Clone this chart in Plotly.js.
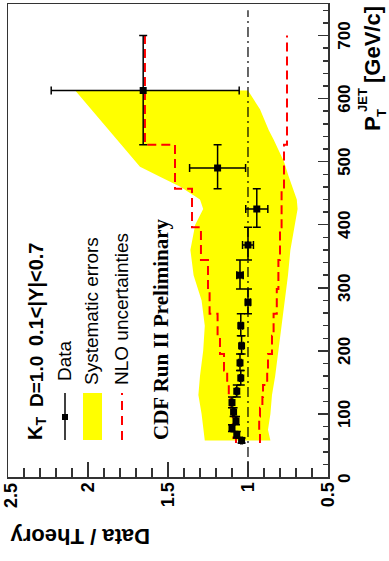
<!DOCTYPE html>
<html><head><meta charset="utf-8">
<script src="https://cdn.plot.ly/plotly-3.0.1.min.js"></script>
<style>
html,body{margin:0;padding:0;background:#fff;overflow:hidden;width:389px;height:561px;}
#wrap{position:absolute;left:0;top:0;width:561px;height:389px;transform-origin:0 0;transform:translate(0px,561px) rotate(-90deg);}
#chart{width:561px;height:389px;}
</style></head><body>
<div id="wrap"><div id="chart"></div></div>
<script>
// ---- data ----
const binLow   = [54,62,72,83,96,110,127,146,169,195,224,259,298,344,396,457,527];
const binHigh  = [62,72,83,96,110,127,146,169,195,224,259,298,344,396,457,527,700];
const ptCenter = [58,67,77,89,103,118,136,157,181,208,240,277,320,368,425,490,613];
const ratio    = [1.04,1.07,1.10,1.075,1.09,1.10,1.07,1.045,1.05,1.04,1.045,1.00,1.05,1.00,0.945,1.19,1.655];
const statUp   = [0.005,0.005,0.005,0.005,0.006,0.006,0.007,0.008,0.009,0.010,0.012,0.015,0.020,0.034,0.069,0.175,0.575];
const statDown = [0.005,0.005,0.005,0.005,0.006,0.006,0.007,0.008,0.009,0.010,0.012,0.015,0.020,0.034,0.069,0.175,0.600];
const nloHigh  = [1.075,1.09,1.09,1.095,1.095,1.11,1.12,1.13,1.15,1.175,1.19,1.24,1.25,1.294,1.35,1.456,1.644];
const nloLow   = [0.925,0.925,0.93,0.93,0.925,0.91,0.906,0.88,0.875,0.85,0.84,0.82,0.81,0.80,0.79,0.775,0.756];
const nloEnd   = 700;
const bandPt   = [613,583,550,535,500,492,476,460,440,425,400,360,320,280,240,200,160,130,100,75,58];
const bandHi   = [2.08,1.98,1.87,1.82,1.70,1.675,1.55,1.42,1.30,1.28,1.33,1.36,1.34,1.29,1.27,1.28,1.30,1.31,1.29,1.28,1.27];
const bandLo   = [1.00,0.925,0.87,0.84,0.775,0.765,0.745,0.725,0.695,0.69,0.71,0.735,0.75,0.77,0.79,0.81,0.83,0.85,0.86,0.875,0.86];
const unityY   = 1.0;
const unityX   = [0, 740];
const xTicks   = [100,200,300,400,500,600,700];  // "0" at the corner is placed as an annotation
const xCornerLabel = '0';
const yTicks   = [0.5,1,1.5,2];                  // "2.5" at the edge is placed as an annotation
const yTopLabel = '2.5';

// ---- layout helpers (pixel -> paper) ----
const W=561,H=389,ML=84,MR=4,MT=8,MB=61;
const px = X => (X-ML)/(W-ML-MR);
const py = Y => (H-MB-Y)/(H-MT-MB);

const bandX = bandPt.concat(bandPt.slice().reverse());
const bandY = bandHi.concat(bandLo.slice().reverse());

const traces = [
  {x:bandX, y:bandY, type:'scatter', mode:'lines', fill:'toself', fillcolor:'#ffff00',
   line:{width:0,color:'#ffff00'}, hoverinfo:'skip', showlegend:false},
  {x:binLow.concat([nloEnd]), y:nloHigh.concat([nloHigh[nloHigh.length-1]]), type:'scatter', mode:'lines',
   line:{color:'#ff0000', width:2, dash:'9px,5px', shape:'hv'}, showlegend:false},
  {x:binLow.concat([nloEnd]), y:nloLow.concat([nloLow[nloLow.length-1]]), type:'scatter', mode:'lines',
   line:{color:'#ff0000', width:2, dash:'9px,5px', shape:'hv'}, showlegend:false},
  {x:unityX, y:[unityY,unityY], type:'scatter', mode:'lines',
   line:{color:'#000', width:1.2, dash:'10px,4px,2px,4px'}, showlegend:false},
  {x:ptCenter, y:ratio, type:'scatter', mode:'markers',
   marker:{symbol:'square', size:7, color:'#000'},
   error_x:{type:'data', symmetric:false, array:ptCenter.map((p,i)=>binHigh[i]-p),
            arrayminus:ptCenter.map((p,i)=>p-binLow[i]), color:'#000', thickness:1.5, width:4},
   error_y:{type:'data', symmetric:false, array:statUp, arrayminus:statDown, color:'#000', thickness:1.5, width:4},
   showlegend:false}
];

const sans = 'Liberation Sans, Arial, Helvetica, sans-serif';
const serif = 'Liberation Serif, Times New Roman, serif';
function ann(text, X, Y, xa, size, opts){
  return Object.assign({text:text, xref:'paper', yref:'paper', x:px(X), y:py(Y), xanchor:xa, yanchor:'middle',
    showarrow:false, font:{family:sans, size:size, color:'#000'}}, opts||{});
}

const layout = {
  width:W, height:H, margin:{l:ML,r:MR,t:MT,b:MB}, paper_bgcolor:'#fff', plot_bgcolor:'#fff',
  showlegend:false,
  xaxis:{range:[0,750], tickvals:xTicks, ticks:'inside', ticklen:10, tickwidth:1.5, tickcolor:'#333',
         showline:true, linecolor:'#333', linewidth:1.5, mirror:true, showgrid:false, zeroline:false,
         minor:{dtick:20, ticks:'inside', ticklen:5, tickwidth:1.5, tickcolor:'#333', showgrid:false},
         tickfont:{family:sans, size:17, color:'#000', weight:'bold'}},
  yaxis:{range:[0.4999,2.5], tickvals:yTicks, ticks:'inside', ticklen:15, tickwidth:1.5, tickcolor:'#333',
         showline:true, linecolor:'#333', linewidth:1.5, mirror:true, showgrid:false, zeroline:false,
         minor:{dtick:0.1, ticks:'inside', ticklen:9, tickwidth:1.5, tickcolor:'#333', showgrid:false},
         tickfont:{family:sans, size:18, color:'#000', weight:'bold'}},
  shapes:[
    {type:'line', xref:'paper', yref:'paper', x0:px(121), x1:px(168), y0:py(65), y1:py(65), line:{color:'#000', width:1.5}},
    {type:'rect', xref:'paper', yref:'paper', x0:px(141), x1:px(147), y0:py(62), y1:py(68), fillcolor:'#000', line:{width:0}},
    {type:'rect', xref:'paper', yref:'paper', x0:px(121), x1:px(168), y0:py(83), y1:py(102), fillcolor:'#ffff00', line:{width:0}},
    {type:'line', xref:'paper', yref:'paper', x0:px(121), x1:px(168), y0:py(122), y1:py(122), line:{color:'#ff0000', width:2, dash:'9px,6px'}}
  ],
  annotations:[
    {text:'<b>'+yTopLabel+'</b>', xref:'paper', yref:'paper', x:px(79), y:py(0), xanchor:'right', yanchor:'top',
     showarrow:false, borderpad:0, font:{family:sans, size:18, color:'#000'}},
    {text:'<b>'+xCornerLabel+'</b>', xref:'paper', yref:'paper', x:px(82), y:py(334), xanchor:'center', yanchor:'top',
     showarrow:false, borderpad:0, font:{family:sans, size:17, color:'#000'}},
    ann('<b>K<sub>T</sub></b>', 119, 37, 'left', 20),
    ann('<b>D=1.0</b>', 152, 36, 'left', 19),
    ann('<b>0.1&lt;|Y|&lt;0.7</b>', 213, 36, 'left', 20),
    ann('Data', 178, 64, 'left', 19),
    ann('Systematic errors', 174, 92, 'left', 19),
    ann('NLO uncertainties', 174, 121, 'left', 19),
    ann('<b>CDF Run II Preliminary</b>', 119, 161, 'left', 21, {font:{family:serif, size:21, color:'#000'}}),
    ann('<b>P</b>', 447, 372, 'right', 22),
    ann('<b>JET</b>', 447, 362, 'left', 13),
    ann('<b>T</b>', 442, 381, 'left', 13),
    ann('<b>[GeV/c]</b>', 557, 372, 'right', 22),
    {text:'<b>Data / Theory</b>', xref:'paper', yref:'paper', x:px(24), y:1, xanchor:'center', yanchor:'top',
     textangle:-90, showarrow:false, font:{family:sans, size:22, color:'#000'}}
  ]
};

Plotly.newPlot('chart', traces, layout, {staticPlot:true, displayModeBar:false});
</script></body></html>
